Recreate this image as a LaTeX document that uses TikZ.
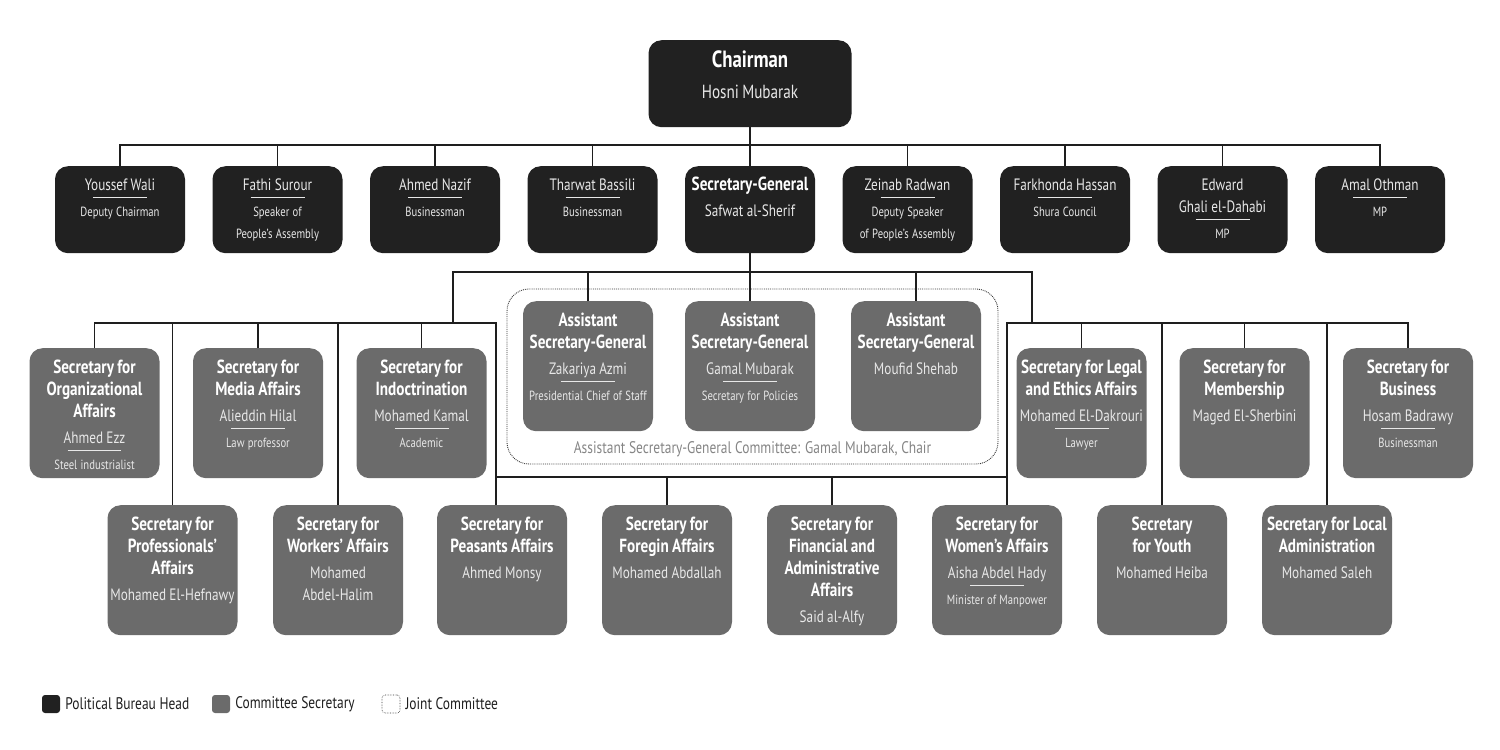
\documentclass[tikz,border=0pt]{standalone}
\usepackage{fontspec}
\setmainfont{PT Sans}[FakeStretch=0.8]
\usetikzlibrary{positioning}

\definecolor{headfill}{HTML}{212121}
\definecolor{secfill}{HTML}{6B6B6B}
\definecolor{wirecol}{HTML}{1E1E1E}
\definecolor{namecol}{HTML}{E8E8E8}
\definecolor{notecol}{HTML}{858585}
\definecolor{jointcol}{HTML}{3A3A3A}

% text blocks inside the boxes
\newcommand{\posttitle}[1]{{\bfseries\fontsize{19}{22}\selectfont #1\par}\vspace{4pt}}
\newcommand{\postname}[1]{{\color{namecol}\fontsize{16.5}{22}\selectfont #1\par}}
\newcommand{\postsep}{{\fontsize{10}{8}\selectfont\color{namecol}\rule{54pt}{1.2pt}\par}}
\newcommand{\postrole}[1]{\vspace{-4pt}{\color{namecol}\fontsize{13.3}{22}\selectfont #1\par}}

\tikzset{
    wire/.style={draw=wirecol, line width=1.8pt},
    post/.style={rounded corners=13pt, inner sep=0pt, text width=130pt, align=center,
        anchor=north, text=white, text height=25pt, text depth=105pt},
    head/.style={post, fill=headfill, text height=24pt, text depth=63pt},
    sec/.style={post, fill=secfill},
    chairpost/.style={head, text width=203pt, text height=27pt, text depth=60pt},
    joint/.style={draw=jointcol, densely dotted, line width=0.9pt, rounded corners=22pt,
        minimum width=491pt, minimum height=175pt, inner sep=0pt},
    legbox/.style={rounded corners=3pt, minimum size=18pt, inner sep=0pt},
    legtext/.style={font=\fontsize{16.8}{18}\selectfont, text=wirecol, inner sep=0pt},
    note/.style={font=\fontsize{16.8}{18}\selectfont, text=notecol, inner sep=0pt}
}

\begin{document}
\begin{tikzpicture}[x=1pt, y=-1pt]
        \useasboundingbox (0,0) rectangle (1500,750);

        % Chairman
        \node[chairpost] (chair) at (750,40) {{\bfseries\fontsize{23.5}{26}\selectfont Chairman\par}
            {\color{namecol}\fontsize{19}{31}\selectfont Hosni Mubarak\par}};

        % Political bureau
        \node[head] (wali) at (120,166) {\postname{Youssef Wali}\postsep\postrole{Deputy Chairman}};
        \node[head] (surour) at (277.5,166) {\postname{Fathi Surour}\postsep\postrole{Speaker of\\People’s Assembly}};
        \node[head] (nazif) at (435,166) {\postname{Ahmed Nazif}\postsep\postrole{Businessman}};
        \node[head] (bassili) at (592.5,166) {\postname{Tharwat Bassili}\postsep\postrole{Businessman}};
        \node[head] (secgen) at (750,166) {\posttitle{Secretary-General}\postname{Safwat al-Sherif}};
        \node[head] (radwan) at (907.5,166) {\postname{Zeinab Radwan}\postsep\postrole{Deputy Speaker\\of People’s Assembly}};
        \node[head] (hassan) at (1065,166) {\postname{Farkhonda Hassan}\postsep\postrole{Shura Council}};
        \node[head] (dahabi) at (1222.5,166) {\postname{Edward\\Ghali el-Dahabi}\postsep\postrole{MP}};
        \node[head] (othman) at (1380,166) {\postname{Amal Othman}\postsep\postrole{MP}};

        % Assistant secretaries and their committee
        \node[joint] (asgc) at (752.5,376.5) {};
        \node[note, anchor=base] (asgcnote) at ([yshift=11pt]asgc.south)
            {Assistant Secretary-General Committee: Gamal Mubarak, Chair};

        \node[sec] (azmi) at (588,301) {\posttitle{Assistant\\Secretary-General}\postname{Zakariya Azmi}\postsep\postrole{Presidential Chief of Staff}};
        \node[sec] (gamal) at (750,301) {\posttitle{Assistant\\Secretary-General}\postname{Gamal Mubarak}\postsep\postrole{Secretary for Policies}};
        \node[sec] (shehab) at (916,301) {\posttitle{Assistant\\Secretary-General}\postname{Moufid Shehab}};

        % Secretaries, upper row
        \node[sec] (organiz) at (94.5,348) {\posttitle{Secretary for\\Organizational\\Affairs}\postname{Ahmed Ezz}\postsep\postrole{Steel industrialist}};
        \node[sec] (media) at (258,348) {\posttitle{Secretary for\\Media Affairs}\postname{Alieddin Hilal}\postsep\postrole{Law professor}};
        \node[sec] (indoc) at (421.5,348) {\posttitle{Secretary for\\Indoctrination}\postname{Mohamed Kamal}\postsep\postrole{Academic}};
        \node[sec] (legal) at (1081.5,348) {\posttitle{Secretary for Legal\\and Ethics Affairs}\postname{Mohamed El-Dakrouri}\postsep\postrole{Lawyer}};
        \node[sec] (member) at (1244.5,348) {\posttitle{Secretary for\\Membership}\postname{Maged El-Sherbini}};
        \node[sec] (business) at (1408,348) {\posttitle{Secretary for\\Business}\postname{Hosam Badrawy}\postsep\postrole{Businessman}};

        % Secretaries, lower row
        \node[sec] (profess) at (172.5,505) {\posttitle{Secretary for\\Professionals’\\Affairs}\postname{Mohamed El-Hefnawy}};
        \node[sec] (workers) at (338,505) {\posttitle{Secretary for\\Workers’ Affairs}\postname{Mohamed\\Abdel-Halim}};
        \node[sec] (peasants) at (502,505) {\posttitle{Secretary for\\Peasants Affairs}\postname{Ahmed Monsy}};
        \node[sec] (foreign) at (667,505) {\posttitle{Secretary for\\Foregin Affairs}\postname{Mohamed Abdallah}};
        \node[sec] (finance) at (832,505) {\posttitle{Secretary for\\Financial and\\Administrative\\Affairs}\postname{Said al-Alfy}};
        \node[sec] (women) at (997,505) {\posttitle{Secretary for\\Women’s Affairs}\postname{Aisha Abdel Hady}\postsep\postrole{Minister of Manpower}};
        \node[sec] (youth) at (1162,505) {\posttitle{Secretary\\for Youth}\postname{Mohamed Heiba}};
        \node[sec] (local) at (1327,505) {\posttitle{Secretary for Local\\Administration}\postname{Mohamed Saleh}};

        % define buses
        \coordinate (topbus) at (750,145);
        \coordinate (midbus) at (750,272);
        \coordinate (lbus) at (453,323);
        \coordinate (rbus) at (1032,323);
        \coordinate (lowbus) at (750,477);
        \coordinate (peasantsin) at ([xshift=-6pt]peasants.north);
        \coordinate (womenin) at ([xshift=10pt]women.north);

        % draw buses
        \draw[wire] (chair.south) -- (secgen.north);
        \draw[wire] (wali.north) |- (topbus) -| (othman.north);
        \draw[wire] (surour.north) -- (surour.north |- topbus);
        \draw[wire] (nazif.north) -- (nazif.north |- topbus);
        \draw[wire] (bassili.north) -- (bassili.north |- topbus);
        \draw[wire] (radwan.north) -- (radwan.north |- topbus);
        \draw[wire] (hassan.north) -- (hassan.north |- topbus);
        \draw[wire] (dahabi.north) -- (dahabi.north |- topbus);

        \draw[wire] (secgen.south) -- (gamal.north);
        \draw[wire] (azmi.north) |- (midbus) -| (shehab.north);
        \draw[wire] (lbus) |- (midbus) -| (rbus);

        \draw[wire] (organiz.north) |- (lbus);
        \draw[wire] (peasantsin) |- (lbus);
        \draw[wire] (media.north) -- (media.north |- lbus);
        \draw[wire] (indoc.north) -- (indoc.north |- lbus);
        \draw[wire] (profess.north) -- (profess.north |- lbus);
        \draw[wire] (workers.north) -- (workers.north |- lbus);

        \draw[wire] (womenin) |- (rbus);
        \draw[wire] (rbus) -| (business.north);
        \draw[wire] (legal.north) -- (legal.north |- rbus);
        \draw[wire] (member.north) -- (member.north |- rbus);
        \draw[wire] (youth.north) -- (youth.north |- rbus);
        \draw[wire] (local.north) -- (local.north |- rbus);

        \draw[wire] (peasantsin |- lowbus) -- (womenin |- lowbus);
        \draw[wire] (foreign.north) -- (foreign.north |- lowbus);
        \draw[wire] (finance.north) -- (finance.north |- lowbus);

        % Legend
        \node[legbox, fill=headfill] (leghead) at (51,704) {};
        \node[legtext, right=5pt of leghead] (legheadtext) {Political Bureau Head};
        \node[legbox, fill=secfill] (legsec) at (221,704) {};
        \node[legtext, right=5pt of legsec] (legsectext) {Committee Secretary};
        \node[legbox, draw=jointcol, densely dotted, line width=0.6pt] (legjoint) at (391,704) {};
        \node[legtext, right=5pt of legjoint] (legjointtext) {Joint Committee};
    \end{tikzpicture}
\end{document}
